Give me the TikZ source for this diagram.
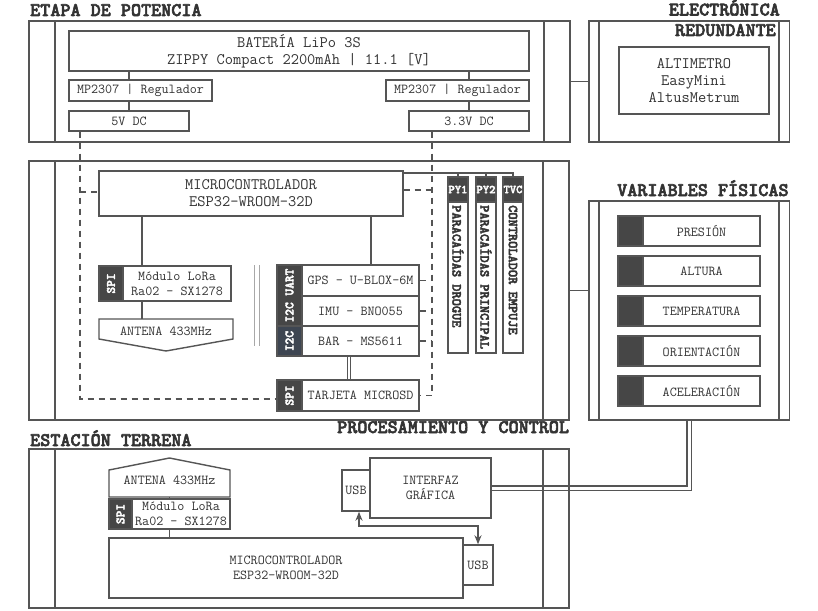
\documentclass[tikz,border=0pt]{standalone}
\usepackage{fontspec}
\newfontfamily\monobold{lmmonolt10-bold.otf}[FakeBold=3]
\usetikzlibrary{backgrounds,arrows.meta}
\definecolor{lc}{HTML}{555555}
\definecolor{tc}{HTML}{333333}
\definecolor{tabc}{HTML}{464646}
\definecolor{tabb}{HTML}{3E4652}
\definecolor{sepc}{HTML}{A8A8A8}
\newcommand\fBig{\ttfamily\fontsize{16}{17}\selectfont}
\newcommand\fMid{\ttfamily\fontsize{13.7}{15}\selectfont}
\newcommand\fTit{\monobold\fontsize{19.2}{21}\selectfont}
\newcommand\fTab{\monobold\fontsize{12.8}{14}\selectfont}
\newcommand\fVert{\monobold\fontsize{13.7}{15}\selectfont}
\newcommand\fPy{\monobold\fontsize{12}{13}\selectfont}
% rectangular block given by its corners: [options]{name}{x1}{y1}{x2}{y2}{text}
\newcommand\blk[7][]{%
  \node[bx,minimum width={((#5)-(#3))*1pt},minimum height={((#6)-(#4))*1pt},#1]
    (#2) at ({((#3)+(#5))/2},{((#4)+(#6))/2}) {#7};}

\begin{document}
\begin{tikzpicture}[x=1pt,y=-1pt,
  ln/.style={draw=lc,line width=1.4pt},
  bx/.style={draw=lc,line width=1.4pt,fill=white,inner sep=0pt,align=center,text=tc,font=\fMid},
  sect/.style={fill=none,line width=1.6pt},
  secline/.style={draw=lc,line width=1.6pt},
  tabbox/.style={fill=tabc},
  tabtxt/.style={rotate=90,text=white,font=\fTab,inner sep=0pt},
  pytxt/.style={text=white,font=\fPy,inner sep=0pt},
  vlab/.style={rotate=-90,anchor=west,text=tc,font=\fVert,inner sep=0pt},
  txt/.style={text=tc,font=\fMid,inner sep=0pt},
  title/.style={text=tc,font=\fTit,inner sep=0pt},
  dsh/.style={draw=lc,line width=1.4pt,dash pattern=on 6pt off 5pt},
  dbl/.style={draw=lc,line width=1.2pt,double=white,double distance=2.5pt},
  dblbig/.style={draw=lc,line width=1.3pt,double=white,double distance=3pt},
  arr/.style={draw=lc,line width=1.5pt,{Stealth[length=9pt,width=7pt]}-{Stealth[length=9pt,width=7pt]}},
  sepline/.style={draw=sepc,line width=1pt}]

\begin{pgfonlayer}{background}
  \fill[white] (0,0) rectangle (818,610);
\end{pgfonlayer}
\useasboundingbox (0,0) rectangle (818,610);

% ---------- section frames ----------
\blk[sect]{etapa}{29}{21}{570}{142}{}
\draw[secline] (55,21) -- (55,142) (544,21) -- (544,142);
\blk[sect]{redund}{589}{21}{789.5}{142}{}
\draw[secline] (599,21) -- (599,142) (779,21) -- (779,142);
\blk[sect]{proc}{29}{161}{569}{420}{}
\draw[secline] (55,161) -- (55,420) (543,161) -- (543,420);
\blk[sect]{vars}{589}{201}{789.5}{420}{}
\draw[secline] (599,201) -- (599,420) (779,201) -- (779,420);
\blk[sect]{est}{29}{449}{569}{608}{}
\draw[secline] (55,449) -- (55,608) (543,449) -- (543,608);

% ---------- section titles ----------
\node[title, anchor=base west] (ttEtapa) at (30,16) {ETAPA DE POTENCIA};
\node[title, anchor=base east] (ttElec) at (780,15.5) {ELECTRÓNICA};
\node[title, anchor=base east] (ttRed) at (776,36) {REDUNDANTE};
\node[title, anchor=base west] (ttVars) at (617,196) {VARIABLES FÍSICAS};
\node[title, anchor=base west] (ttProc) at (337,433) {PROCESAMIENTO Y CONTROL};
\node[title, anchor=base west] (ttEst) at (30,446) {ESTACIÓN TERRENA};

% ---------- power stage ----------
\blk[font=\fBig]{bat}{69}{31}{529}{71}{BATERÍA LiPo 3S\\ZIPPY Compact 2200mAh | 11.1 [V]}
\blk{reg1}{69}{80}{212}{101}{MP2307 | Regulador}
\blk{reg2}{386}{80}{529}{101}{MP2307 | Regulador}
\blk{v5}{69}{111}{189}{131}{5V DC}
\blk{v33}{409}{111}{529}{131}{3.3V DC}
\draw[ln] (bat.south -| 129,0) -- (reg1.north -| 129,0);
\draw[ln] (reg1.south -| 129,0) -- (v5.north -| 129,0);
\draw[ln] (bat.south -| 469,0) -- (reg2.north -| 469,0);
\draw[ln] (reg2.south -| 469,0) -- (v33.north -| 469,0);

% ---------- redundant electronics ----------
\blk[font=\fBig]{alt}{619}{47}{769}{114}{ALTIMETRO\\EasyMini\\AltusMetrum}
\draw[ln] (etapa.east) -- (etapa.east -| redund.west);

% ---------- processing and control ----------
\blk[font=\fBig]{mcu}{99}{171}{403}{216}{MICROCONTROLADOR\\ESP32-WROOM-32D}

\blk[tabbox]{lorat}{99}{266}{123}{301}{}
\blk{lora}{123}{266}{231}{301}{Módulo LoRa\\Ra02 - SX1278}
\node[tabtxt] (loratx) at (lorat) {SPI};
\draw[ln] (mcu.south -| 142,0) -- (lora.north -| 142,0);

\draw[ln, fill=white] (99,319) -- (233,319) -- (233,339) -- (166,351) -- (99,339) -- cycle;
\coordinate (ant1n) at (166,319);
\node[txt] (ant1) at (166,331) {ANTENA 433MHz};
\draw[ln] (lora.south -| 142,0) -- (ant1n -| 142,0);

\draw[sepline] (254,265) -- (254,346) (259,265) -- (259,346);

\blk[tabbox]{gpst}{277}{265}{302}{326}{}
\blk[tabbox, fill=tabb]{bart}{277}{326}{302}{356}{}
\blk{gps}{302}{265}{419}{296}{GPS - U-BLOX-6M}
\blk{imu}{302}{296}{419}{326}{IMU - BNO055}
\blk{bar}{302}{326}{419}{356}{BAR - MS5611}
\node[tabtxt] (gpstx) at (gpst) {I2C UART};
\node[tabtxt] (bartx) at (bart) {I2C};
\draw[ln] (mcu.south -| 371,0) -- (gps.north -| 371,0);

\blk[tabbox]{sdt}{277}{380}{302}{411}{}
\blk{sd}{302}{380}{419}{411}{TARJETA MICROSD}
\node[tabtxt] (sdtx) at (sdt) {SPI};
\draw[dbl] (bar.south -| 349,0) -- (sd.north -| 349,0);

% pyro channels
\blk[tabbox]{py1t}{448}{177}{468}{202}{}
\blk[tabbox]{py2t}{476}{177}{496}{202}{}
\blk[tabbox]{tvct}{503}{177}{523}{202}{}
\node[pytxt] (py1tx) at (py1t) {PY1};
\node[pytxt] (py2tx) at (py2t) {PY2};
\node[pytxt] (tvctx) at (tvct) {TVC};
\blk{py1}{448}{202}{468}{353}{}
\blk{py2}{476}{202}{496}{353}{}
\blk{tvc}{503}{202}{523}{353}{}
\node[vlab] (py1l) at (458,205) {PARACAÍDAS DROGUE};
\node[vlab] (py2l) at (486,205) {PARACAÍDAS PRINCIPAL};
\node[vlab] (tvcl) at (513,205) {CONTROLADOR EMPUJE};
\draw[ln] (mcu.east |- 0,173) -- (tvct.north |- 0,173) -- (tvct.north);
\draw[ln] (py1t.north |- 0,173) -- (py1t.north);
\draw[ln] (py2t.north |- 0,173) -- (py2t.north);

% supply rails
\draw[dsh] (v5.south -| 80,0) -- (80,399) -- (sdt.west |- 0,399);
\draw[dsh] (80,192) -- (mcu.west |- 0,192);
\draw[dsh] (v33.south -| 432,0) -- (432,395.5) -- (sd.east);
\draw[dsh] (mcu.east |- 0,190) -- (432,190);
\draw[dsh] (gps.east) -- (gps.east -| 432,0);
\draw[dsh] (imu.east) -- (imu.east -| 432,0);
\draw[dsh] (bar.east) -- (bar.east -| 432,0);

% ---------- physical variables ----------
\foreach \n/\y/\t in {1/216/PRESIÓN,2/256/ALTURA,3/296/TEMPERATURA,4/336/ORIENTACIÓN,5/376/ACELERACIÓN}{
  \blk[tabbox]{vt\n}{618}{\y}{643}{\y+30}{}
  \blk{vb\n}{643}{\y}{760}{\y+30}{\t}
}
\draw[ln] (proc.east) -- (proc.east -| vars.west);

% ---------- ground station ----------
\draw[ln, fill=white] (109,497) -- (109,470) -- (169.5,458) -- (230,470) -- (230,497) -- cycle;
\coordinate (ant2s) at (169.5,497);
\node[txt] (ant2) at (169.5,480) {ANTENA 433MHz};
\blk[tabbox]{lora2t}{109}{499}{132}{529}{}
\blk{lora2}{132}{499}{230}{529}{Módulo LoRa\\Ra02 - SX1278}
\node[tabtxt] (lora2tx) at (lora2t) {SPI};
\draw[ln] (ant2s) -- (lora2.north -| ant2s);
\blk{mcu2}{109}{538}{463}{598}{MICROCONTROLADOR\\ESP32-WROOM-32D}
\draw[ln] (lora2.south -| ant2s) -- (mcu2.north -| ant2s);
\blk{usb2}{463}{545}{493}{585}{USB}
\blk{gui}{370}{458}{491}{518}{INTERFAZ\\GRÁFICA}
\blk{usb1}{342}{470}{370}{511}{USB}
\draw[arr] (usb1.south -| 359,0) -- (359,526) -| (usb2.north);

\begin{pgfonlayer}{background}
  \draw[dblbig] (vars.south) |- (gui.east);
\end{pgfonlayer}

\end{tikzpicture}
\end{document}
